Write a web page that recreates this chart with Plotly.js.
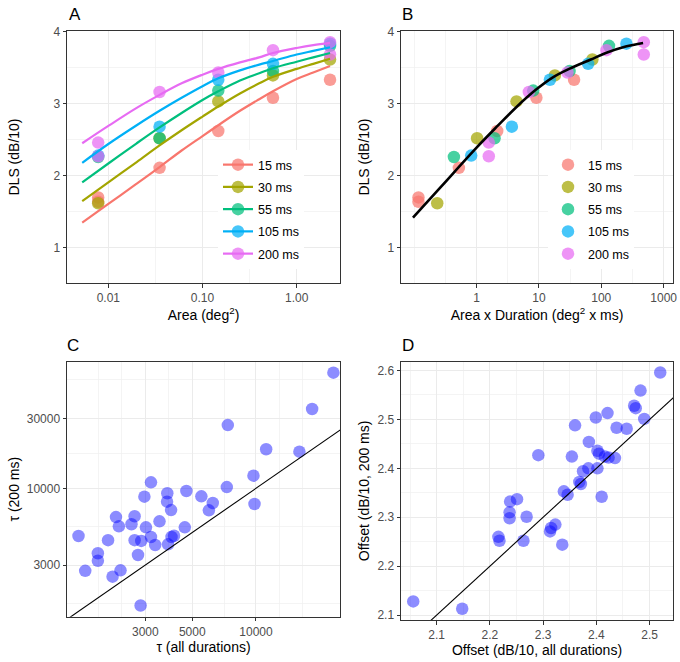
<!DOCTYPE html>
<html><head><meta charset="utf-8">
<script src="https://cdn.plot.ly/plotly-3.0.1.min.js"></script>
<style>html,body{margin:0;padding:0;background:#fff}</style>
</head><body><div id="chart" style="width:680px;height:662px"></div>
<script>
// ---------- DATA ----------
const durationLabels = ['15 ms', '30 ms', '55 ms', '105 ms', '200 ms'];

// Panel A: area (deg^2) of each measured point
const area15 = [0.0078, 0.0078, 0.035, 0.147, 0.56, 2.26];
const area30 = [0.0078, 0.035, 0.147, 0.56, 2.26];
const area55 = [0.0078, 0.035, 0.147, 0.56, 2.26];
const area105 = [0.0078, 0.035, 0.147, 0.56, 2.26];
const area200 = [0.0078, 0.0078, 0.035, 0.147, 0.56, 2.26, 2.26];

// DLS (dB/10) of those points (shared by panels A and B)
const dls15 = [1.70, 1.64, 2.11, 2.62, 3.08, 3.33];
const dls30 = [1.62, 2.52, 3.03, 3.39, 3.61];
const dls55 = [2.26, 2.52, 3.18, 3.45, 3.80];
const dls105 = [2.28, 2.68, 3.33, 3.55, 3.83];
const dls200 = [2.46, 2.27, 3.16, 3.43, 3.74, 3.85, 3.68];

// Panel A fitted curves
const curveArea = [0.00528, 0.01, 0.02, 0.035, 0.06, 0.1, 0.147, 0.25, 0.4, 0.56, 1.0, 1.5, 2.26];
const fit15 = [1.35, 1.61, 1.89, 2.12, 2.35, 2.55, 2.70, 2.90, 3.06, 3.17, 3.34, 3.43, 3.52];
const fit30 = [1.65, 1.91, 2.19, 2.42, 2.63, 2.82, 2.96, 3.14, 3.28, 3.37, 3.48, 3.55, 3.62];
const fit55 = [1.91, 2.17, 2.45, 2.67, 2.87, 3.05, 3.17, 3.32, 3.42, 3.49, 3.58, 3.64, 3.70];
const fit105 = [2.18, 2.44, 2.70, 2.90, 3.08, 3.24, 3.35, 3.46, 3.54, 3.59, 3.68, 3.73, 3.78];
const fit200 = [2.45, 2.69, 2.94, 3.12, 3.28, 3.40, 3.48, 3.57, 3.64, 3.70, 3.77, 3.81, 3.84];

// Panel B: area x duration (deg^2 x ms)
const ad15 = [0.117, 0.117, 0.52, 2.14, 9.1, 36.6];
const ad30 = [0.234, 1.02, 4.37, 18, 72];
const ad55 = [0.433, 1.94, 8.1, 31, 133];
const ad105 = [0.82, 3.68, 15, 61.5, 253];
const ad200 = [1.57, 1.57, 6.9, 28.7, 121, 480, 480];

// Panel B common fitted curve
const fitAD = [0.0955, 0.27, 1.0, 2.17, 4.33, 8.9, 16.5, 30.5, 68, 118, 246, 468];
const fitADdls = [1.42, 1.85, 2.39, 2.69, 2.95, 3.19, 3.36, 3.48, 3.61, 3.70, 3.79, 3.84];

// Panel C: tau
const tauAll = [1450, 1560, 1790, 1790, 2000, 2100, 2290, 2180, 2250, 2580, 2670, 2670, 2870, 2770, 2850, 2970, 3020, 3190, 3190, 3340,
  3500, 3810, 3800, 3970, 3840, 3990, 4100, 4610, 4690, 5520, 6250, 5990, 7360, 7280, 9730, 9840, 11170, 16040, 18420, 23220];
const tau200 = [4730, 2740, 3610, 3210, 4430, 2500, 2760, 6370, 5510, 5690, 6450, 4430, 4380, 3510, 1590, 8770, 5420, 10990, 4660, 4110,
  5960, 9250, 8110, 7110, 4150, 4660, 4750, 5420, 9590, 8820, 7940, 7080, 26970, 10200, 12190, 7820, 18450, 17780, 34700, 61400];
const identityC = [1000, 100000];

// Panel D: offset
const offAll = [2.056, 2.148, 2.216, 2.218, 2.238, 2.237, 2.237, 2.251, 2.263, 2.269, 2.291, 2.313, 2.315, 2.323, 2.336, 2.339, 2.346, 2.354, 2.360, 2.368,
  2.371, 2.375, 2.385, 2.386, 2.399, 2.402, 2.405, 2.402, 2.410, 2.416, 2.421, 2.423, 2.435, 2.438, 2.457, 2.471, 2.474, 2.483, 2.490, 2.520];
const off200 = [2.128, 2.113, 2.260, 2.252, 2.332, 2.310, 2.298, 2.337, 2.252, 2.301, 2.427, 2.271, 2.278, 2.285, 2.244, 2.353, 2.346, 2.424, 2.488, 2.372,
  2.368, 2.394, 2.400, 2.454, 2.504, 2.436, 2.430, 2.400, 2.342, 2.424, 2.513, 2.422, 2.421, 2.483, 2.481, 2.528, 2.523, 2.559, 2.501, 2.596];
const identityD = [2.0, 2.7];

// ---------- STYLE ----------
const hue = ['#F8766D', '#A3A500', '#00BF7D', '#00B0F6', '#E76BF3'];
function rgba(hex, a) {
  const n = parseInt(hex.slice(1), 16);
  return 'rgba(' + (n >> 16) + ',' + ((n >> 8) & 255) + ',' + (n & 255) + ',' + a + ')';
}
const FONT = 'Liberation Sans, Arial, Helvetica, sans-serif';
const W = 680, H = 662;
const px = v => v / W;
const py = v => 1 - v / H;

const areaSets = [area15, area30, area55, area105, area200];
const dlsSets = [dls15, dls30, dls55, dls105, dls200];
const fitSets = [fit15, fit30, fit55, fit105, fit200];
const adSets = [ad15, ad30, ad55, ad105, ad200];
const PTA = 0.72;

const traces = [];
// Panel A points
for (let i = 0; i < 5; i++) {
  traces.push({x: areaSets[i], y: dlsSets[i], xaxis: 'x', yaxis: 'y', type: 'scatter', mode: 'markers',
    marker: {size: 12.5, color: rgba(hue[i], PTA), line: {width: 0}}, showlegend: false});
}
// Panel A curves
for (let i = 0; i < 5; i++) {
  traces.push({x: curveArea, y: fitSets[i], xaxis: 'x', yaxis: 'y', type: 'scatter', mode: 'lines',
    line: {color: hue[i], width: 2.2, shape: 'spline'}, showlegend: false});
}
// Panel A legend entries
for (let i = 0; i < 5; i++) {
  traces.push({x: [null], y: [null], xaxis: 'x', yaxis: 'y', type: 'scatter', mode: 'lines+markers',
    name: durationLabels[i], legendgroup: 'a' + i, legend: 'legend',
    marker: {size: 12.5, color: rgba(hue[i], PTA)}, line: {color: hue[i], width: 2.2}});
}
// Panel B points
for (let i = 0; i < 5; i++) {
  traces.push({x: adSets[i], y: dlsSets[i], xaxis: 'x2', yaxis: 'y2', type: 'scatter', mode: 'markers',
    name: durationLabels[i], legendgroup: 'b' + i, legend: 'legend2', showlegend: true,
    marker: {size: 12.5, color: rgba(hue[i], PTA), line: {width: 0}}});
}
// Panel B curve
traces.push({x: fitAD, y: fitADdls, xaxis: 'x2', yaxis: 'y2', type: 'scatter', mode: 'lines',
  line: {color: '#000000', width: 2.6, shape: 'spline'}, showlegend: false});
// Panel C
traces.push({x: tauAll, y: tau200, xaxis: 'x3', yaxis: 'y3', type: 'scatter', mode: 'markers',
  marker: {size: 12.5, color: 'rgba(0,0,255,0.45)', line: {width: 0}}, showlegend: false});
traces.push({x: identityC, y: identityC, xaxis: 'x3', yaxis: 'y3', type: 'scatter', mode: 'lines',
  line: {color: '#000', width: 1.1}, showlegend: false});
// Panel D
traces.push({x: offAll, y: off200, xaxis: 'x4', yaxis: 'y4', type: 'scatter', mode: 'markers',
  marker: {size: 12.5, color: 'rgba(0,0,255,0.45)', line: {width: 0}}, showlegend: false});
traces.push({x: identityD, y: identityD, xaxis: 'x4', yaxis: 'y4', type: 'scatter', mode: 'lines',
  line: {color: '#000', width: 1.1}, showlegend: false});

function ax(extra) {
  return Object.assign({
    showline: true, mirror: true, linecolor: '#333333', linewidth: 1,
    ticks: 'outside', ticklen: 3.5, tickwidth: 1, tickcolor: '#333333',
    showgrid: true, gridcolor: '#EBEBEB', gridwidth: 1, zeroline: false,
    tickfont: {family: FONT, size: 12, color: '#4D4D4D'},
    automargin: false, fixedrange: true
  }, extra);
}
function minorGrid(vals) {
  return {tickmode: 'array', tickvals: vals, showgrid: true, gridcolor: '#EFEFEF', gridwidth: 0.7, ticks: ''};
}
function ttl(text, standoff) {
  return {text: text, font: {family: FONT, size: 14, color: '#000'}, standoff: standoff};
}

const layout = {
  width: W, height: H,
  margin: {l: 0, r: 0, t: 0, b: 0},
  paper_bgcolor: '#fff', plot_bgcolor: '#fff',
  font: {family: FONT},
  xaxis: ax({domain: [px(67), px(340)], anchor: 'y', type: 'log', range: [-2.439, 0.46],
    tickmode: 'array', tickvals: [0.01, 0.1, 1], ticktext: ['0.01', '0.10', '1.00'],
    minor: minorGrid([0.0316, 0.316]), title: ttl('Area (deg<sup>2</sup>)', 0)}),
  yaxis: ax({domain: [py(283), py(31)], anchor: 'x', range: [0.515, 4.005],
    tickmode: 'array', tickvals: [1, 2, 3, 4], minor: minorGrid([1.5, 2.5, 3.5]),
    title: ttl('DLS (dB/10)', 30)}),
  xaxis2: ax({domain: [px(401), px(673)], anchor: 'y2', type: 'log', range: [-1.212, 3.15],
    tickmode: 'array', tickvals: [1, 10, 100, 1000], ticktext: ['1', '10', '100', '1000'],
    minor: minorGrid([0.1, 0.316, 3.16, 31.6, 316]), title: ttl('Area x Duration (deg<sup>2</sup> x ms)', 0)}),
  yaxis2: ax({domain: [py(283), py(31)], anchor: 'x2', range: [0.515, 4.005],
    tickmode: 'array', tickvals: [1, 2, 3, 4], minor: minorGrid([1.5, 2.5, 3.5]),
    title: ttl('DLS (dB/10)', 14)}),
  xaxis3: ax({domain: [px(67), px(340)], anchor: 'y3', type: 'log', range: [3.107, 4.397],
    tickmode: 'array', tickvals: [3000, 5000, 10000], ticktext: ['3000', '5000', '10000'],
    minor: minorGrid([1800, 2324, 3873, 7071, 12910, 16667]), title: ttl('τ (all durations)', 1)}),
  yaxis3: ax({domain: [py(616.7), py(361.7)], anchor: 'x3', type: 'log', range: [3.125, 4.863],
    tickmode: 'array', tickvals: [3000, 10000, 30000], ticktext: ['3000', '10000', '30000'],
    minor: minorGrid([1641, 5477, 17320, 54772]), title: ttl('τ (200 ms)', 3)}),
  xaxis4: ax({domain: [px(401), px(673)], anchor: 'y4', range: [2.033, 2.544],
    tickmode: 'array', tickvals: [2.1, 2.2, 2.3, 2.4, 2.5], ticktext: ['2.1', '2.2', '2.3', '2.4', '2.5'],
    minor: minorGrid([2.05, 2.15, 2.25, 2.35, 2.45]), title: ttl('Offset (dB/10, all durations)', 2)}),
  yaxis4: ax({domain: [py(620), py(361.7)], anchor: 'x4', range: [2.09, 2.618],
    tickmode: 'array', tickvals: [2.1, 2.2, 2.3, 2.4, 2.5, 2.6], ticktext: ['2.1', '2.2', '2.3', '2.4', '2.5', '2.6'],
    minor: minorGrid([2.15, 2.25, 2.35, 2.45, 2.55]), title: ttl('Offset (dB/10, 200 ms)', 4)}),
  legend: {x: px(218), xanchor: 'left', y: py(150), yanchor: 'top', bgcolor: '#fff', borderwidth: 0,
    font: {family: FONT, size: 12.5, color: '#000'}, traceorder: 'grouped', tracegroupgap: 3, itemwidth: 30},
  legend2: {x: px(548), xanchor: 'left', y: py(150), yanchor: 'top', bgcolor: '#fff', borderwidth: 0,
    font: {family: FONT, size: 12.5, color: '#000'}, traceorder: 'grouped', tracegroupgap: 3, itemwidth: 30},
  annotations: [
    {text: 'A', x: px(67), y: py(15), xref: 'paper', yref: 'paper', xanchor: 'left', yanchor: 'middle', showarrow: false, font: {family: FONT, size: 17, color: '#000'}},
    {text: 'B', x: px(400), y: py(15), xref: 'paper', yref: 'paper', xanchor: 'left', yanchor: 'middle', showarrow: false, font: {family: FONT, size: 17, color: '#000'}},
    {text: 'C', x: px(65), y: py(345), xref: 'paper', yref: 'paper', xanchor: 'left', yanchor: 'middle', showarrow: false, font: {family: FONT, size: 17, color: '#000'}},
    {text: 'D', x: px(400), y: py(345), xref: 'paper', yref: 'paper', xanchor: 'left', yanchor: 'middle', showarrow: false, font: {family: FONT, size: 17, color: '#000'}}
  ]
};

Plotly.newPlot('chart', traces, layout, {displayModeBar: false, staticPlot: true});
</script></body></html>
